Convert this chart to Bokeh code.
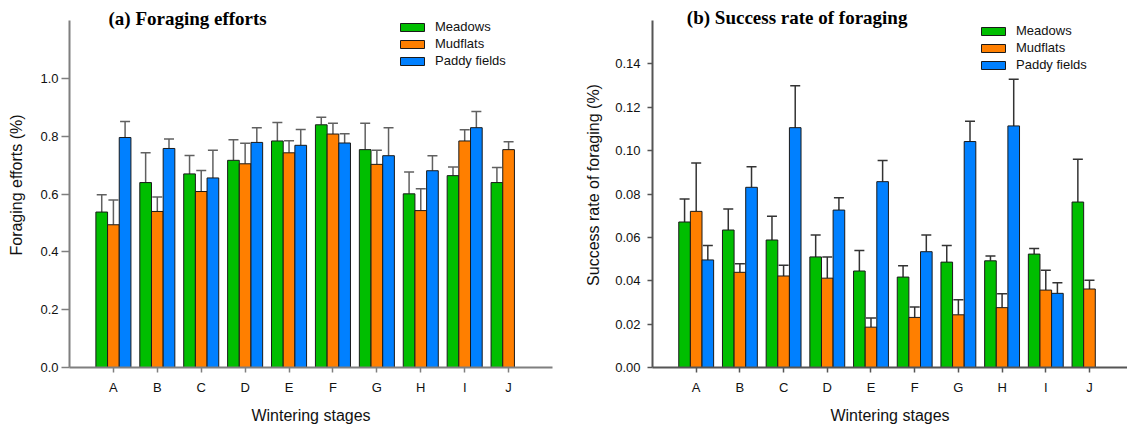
import numpy as np
from bokeh.plotting import figure
from bokeh.models import (ColumnDataSource, Whisker, TeeHead, FixedTicker, PrintfTickFormatter,
                          Legend, LegendItem, Label, Range1d)
from bokeh.layouts import row
from bokeh.embed import file_html
from bokeh.resources import INLINE

# ---------------- data ----------------
stages = ["A", "B", "C", "D", "E", "F", "G", "H", "I", "J"]
habitats = ["Meadows", "Mudflats", "Paddy fields"]

# (a) Foraging efforts: means and upper error (SE)
eff_meadows = [0.538, 0.640, 0.670, 0.717, 0.784, 0.840, 0.754, 0.601, 0.664, 0.640]
eff_meadows_err = [0.060, 0.103, 0.064, 0.071, 0.064, 0.026, 0.091, 0.076, 0.030, 0.052]
eff_mudflats = [0.494, 0.540, 0.609, 0.705, 0.743, 0.808, 0.703, 0.543, 0.784, 0.754]
eff_mudflats_err = [0.086, 0.050, 0.073, 0.071, 0.042, 0.037, 0.049, 0.076, 0.039, 0.027]
eff_paddy = [0.796, 0.758, 0.656, 0.779, 0.769, 0.777, 0.733, 0.681, 0.830]          # A-I
eff_paddy_err = [0.055, 0.033, 0.096, 0.051, 0.055, 0.032, 0.097, 0.052, 0.056]

# (b) Success rate of foraging
suc_meadows = [0.0671, 0.0634, 0.0588, 0.0510, 0.0445, 0.0417, 0.0486, 0.0492, 0.0523, 0.0763]
suc_meadows_err = [0.0106, 0.0097, 0.0109, 0.0101, 0.0095, 0.0052, 0.0077, 0.0022, 0.0026, 0.0197]
suc_mudflats = [0.0720, 0.0439, 0.0422, 0.0412, 0.0186, 0.0231, 0.0243, 0.0276, 0.0357, 0.0362]
suc_mudflats_err = [0.0223, 0.0040, 0.0049, 0.0098, 0.0042, 0.0048, 0.0069, 0.0064, 0.0092, 0.0040]
suc_paddy = [0.0496, 0.0831, 0.1106, 0.0726, 0.0857, 0.0534, 0.1042, 0.1114, 0.0342]   # A-I
suc_paddy_err = [0.0067, 0.0095, 0.0193, 0.0057, 0.0098, 0.0077, 0.0094, 0.0215, 0.0049]

eff_ticks = [0.0, 0.2, 0.4, 0.6, 0.8, 1.0]
suc_ticks = [0.00, 0.02, 0.04, 0.06, 0.08, 0.10, 0.12, 0.14]

COLORS = ["#00BE00", "#FF7F00", "#0080FF"]
FONT = "Liberation Sans"
SERIF = "Liberation Serif"

BAR_W = 0.266
OFFSETS = [-BAR_W, 0.0, BAR_W]


def make_panel(series, errs, title, ylabel, ymax, yview, yticks, yfmt, xend, width, border_left,
               border_right, title_x, legend_xy, tick_out, tick_standoff, ylab_standoff,
               axis_color, err_color):
    p = figure(width=width, height=426, output_backend="svg", toolbar_location=None,
               x_range=Range1d(0, xend), y_range=Range1d(0, yview),
               min_border_left=border_left, min_border_right=border_right,
               min_border_top=2, min_border_bottom=59)
    p.outline_line_color = None
    p.grid.visible = False
    p.background_fill_color = "white"
    p.border_fill_color = "white"

    renderers = []
    sources = []
    for i, (vals, err) in enumerate(zip(series, errs)):
        n = len(vals)
        pos = np.arange(1, n + 1) + OFFSETS[i]
        top = np.array(vals)
        src = ColumnDataSource(dict(x=pos, top=top, upper=top + np.array(err)))
        sources.append(src)
        r = p.vbar(x="x", top="top", bottom=0, width=BAR_W, source=src,
                   fill_color=COLORS[i], line_color="#1a1a1a", line_width=1)
        renderers.append(r)
    for src in sources:
        w = Whisker(source=src, base="x", lower="top", upper="upper", dimension="height",
                    line_color=err_color, line_width=1.5, lower_head=None,
                    upper_head=TeeHead(size=10, line_color=err_color, line_width=1.5))
        p.add_layout(w)

    # axes
    xa = p.xaxis[0]
    xa.ticker = FixedTicker(ticks=list(range(1, len(stages) + 1)))
    xa.major_label_overrides = {i + 1: s for i, s in enumerate(stages)}
    xa.minor_tick_line_color = None
    xa.major_tick_in = 0
    xa.major_tick_out = 5
    xa.major_label_standoff = 7
    xa.axis_label = "Wintering stages"
    xa.axis_label_standoff = 9

    ya = p.yaxis[0]
    ya.bounds = (0, ymax)
    ya.ticker = FixedTicker(ticks=yticks)
    ya.formatter = PrintfTickFormatter(format=yfmt)
    ya.minor_tick_line_color = None
    ya.major_tick_in = 0
    ya.major_tick_out = tick_out
    ya.major_label_standoff = tick_standoff
    ya.axis_label = ylabel
    ya.axis_label_standoff = ylab_standoff

    for ax in (xa, ya):
        ax.axis_line_color = axis_color
        ax.axis_line_width = 2
        ax.major_tick_line_color = axis_color
        ax.major_tick_line_width = 1.5
        ax.major_label_text_font = FONT
        ax.major_label_text_font_size = "13px"
        ax.major_label_text_color = "#111111"
        ax.axis_label_text_font = FONT
        ax.axis_label_text_font_size = "16px"
        ax.axis_label_text_font_style = "normal"
        ax.axis_label_text_color = "#111111"

    p.add_layout(Label(x=title_x, y=ymax * 1.0075, text=title, text_font=SERIF,
                       text_font_size="19px", text_font_style="bold", text_align="center",
                       text_baseline="middle", text_color="#000000"))

    legend = Legend(items=[LegendItem(label=h, renderers=[r]) for h, r in zip(habitats, renderers)],
                    location=legend_xy, glyph_width=30, glyph_height=10, label_height=10,
                    spacing=2, padding=0, margin=0, label_standoff=8,
                    label_text_font=FONT, label_text_font_size="13px",
                    label_text_color="#111111",
                    border_line_alpha=0, background_fill_alpha=0)
    p.add_layout(legend)
    return p


p1 = make_panel([eff_meadows, eff_mudflats, eff_paddy],
                [eff_meadows_err, eff_mudflats_err, eff_paddy_err],
                "(a) Foraging efforts", "Foraging efforts (%)", 1.2, 1.2632, eff_ticks, "%.1f",
                11, 560, 69, 8, 2.69, (328, 299), 8, 3, 12, "#7f7f7f", "#606060")
p2 = make_panel([suc_meadows, suc_mudflats, suc_paddy],
                [suc_meadows_err, suc_mudflats_err, suc_paddy_err],
                "(b) Success rate of foraging", "Success rate of foraging (%)", 0.16, 0.16832,
                suc_ticks, "%.2f", 10.87, 567, 92, 0, 3.31, (326, 295), 5, 7, 10,
                "#555555", "#333333")

layout = row(p1, p2)
open("out.html", "w").write(file_html(layout, INLINE))
